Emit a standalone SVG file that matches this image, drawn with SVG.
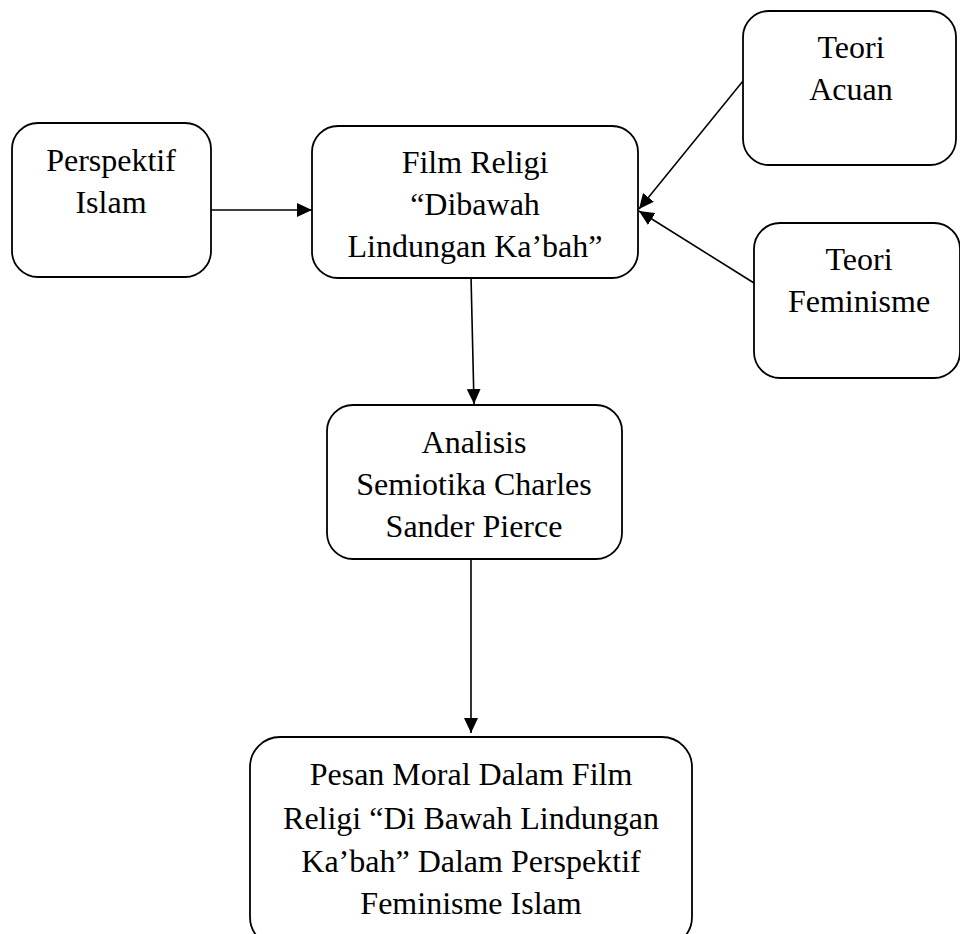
<svg xmlns="http://www.w3.org/2000/svg" width="960" height="934" viewBox="0 0 960 934">
<style>
.box{fill:#fff;stroke:#000;stroke-width:1.8}
.t{font-family:"Liberation Serif","Times New Roman",serif;font-size:32px;fill:#000;text-anchor:middle}
.c{stroke:#000;stroke-width:1.6;fill:none;marker-end:url(#ah)}
</style>
<defs>
<marker id="ah" viewBox="0 0 15 14" refX="15" refY="7" markerWidth="15" markerHeight="14" markerUnits="userSpaceOnUse" orient="auto">
<path d="M0,0 L15,7 L0,14 Z" fill="#000"/>
</marker>
</defs>
<rect width="960" height="934" fill="#fff"/>
<g id="connectors">
<line class="c" x1="211" y1="210" x2="312" y2="210"/>
<line class="c" x1="743" y1="81" x2="639" y2="209"/>
<line class="c" x1="754" y1="283" x2="639" y2="211"/>
<line class="c" x1="471" y1="276" x2="474" y2="404"/>
<line class="c" x1="471" y1="559" x2="471" y2="733"/>
</g>
<g id="perspektif">
<rect class="box" x="12" y="123" width="199" height="154" rx="26"/>
<text class="t" x="111" y="171">Perspektif</text>
<text class="t" x="111" y="213">Islam</text>
</g>
<g id="film">
<rect class="box" x="312" y="126" width="326" height="152" rx="26"/>
<text class="t" x="475" y="173">Film Religi</text>
<text class="t" x="475" y="215">“Dibawah</text>
<text class="t" x="475" y="257">Lindungan Ka’bah”</text>
</g>
<g id="acuan">
<rect class="box" x="743" y="11" width="213" height="154" rx="26"/>
<text class="t" x="851" y="58">Teori</text>
<text class="t" x="851" y="100">Acuan</text>
</g>
<g id="feminisme">
<rect class="box" x="754" y="223" width="206" height="155" rx="26"/>
<text class="t" x="859" y="270">Teori</text>
<text class="t" x="859" y="312">Feminisme</text>
</g>
<g id="analisis">
<rect class="box" x="327" y="405" width="295" height="154" rx="26"/>
<text class="t" x="474" y="453">Analisis</text>
<text class="t" x="474" y="495">Semiotika Charles</text>
<text class="t" x="474" y="537">Sander Pierce</text>
</g>
<g id="pesan">
<rect class="box" x="250" y="737" width="442" height="210" rx="30"/>
<text class="t" x="471" y="785">Pesan Moral Dalam Film</text>
<text class="t" x="471" y="829">Religi “Di Bawah Lindungan</text>
<text class="t" x="471" y="872">Ka’bah” Dalam Perspektif</text>
<text class="t" x="471" y="914">Feminisme Islam</text>
</g>
</svg>
